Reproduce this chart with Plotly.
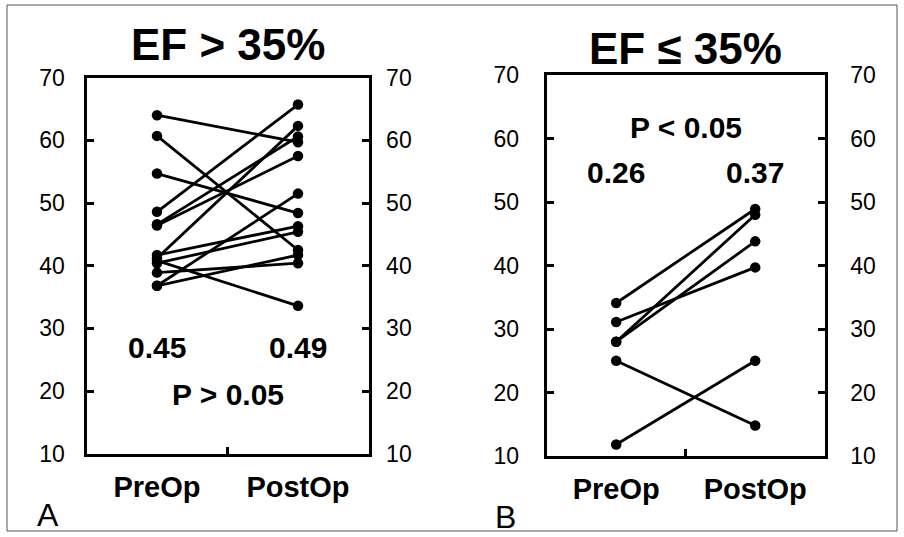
import plotly.graph_objects as go

# ---- data ----
categories = ["PreOp", "PostOp"]
y_ticks = [10, 20, 30, 40, 50, 60, 70]

left_pre = [64.0, 60.7, 54.7, 48.6, 46.6, 46.4, 41.2, 41.7, 40.4, 40.8, 38.9, 36.8, 36.8]
left_post = [59.7, 42.5, 48.4, 65.7, 60.6, 57.5, 62.3, 46.3, 45.4, 33.6, 40.4, 41.7, 51.5]

right_pre = [34.1, 31.1, 28.0, 28.0, 25.0, 11.8]
right_post = [48.9, 39.7, 48.0, 43.8, 14.8, 25.0]

left_title = "EF > 35%"
right_title = "EF ≤ 35%"
left_means = ["0.45", "0.49"]
right_means = ["0.26", "0.37"]
left_p = "P > 0.05"
right_p = "P < 0.05"

x_pos = list(range(len(categories)))

FONT = "Liberation Sans, Arial, sans-serif"
W, H = 904, 537

fig = go.Figure()

def add_pairs(pre_vals, post_vals, xa, ya, ya_right):
    for pre, post in zip(pre_vals, post_vals):
        fig.add_trace(go.Scatter(x=x_pos, y=[pre, post], mode="lines+markers",
                                 line=dict(color="black", width=2.8),
                                 marker=dict(color="black", size=10.5),
                                 xaxis=xa, yaxis=ya, showlegend=False, hoverinfo="y"))
        # transparent copy so that the right-hand axis is drawn
        fig.add_trace(go.Scatter(x=x_pos, y=[pre, post], mode="lines", opacity=0,
                                 xaxis=xa, yaxis=ya_right, showlegend=False,
                                 hoverinfo="skip"))

add_pairs(left_pre, left_post, "x", "y", "y3")
add_pairs(right_pre, right_post, "x2", "y2", "y4")

# pixel geometry -> paper fractions
def px_x(a, b):
    return [a / W, b / W]

def px_y(top, bottom):
    return [(H - bottom) / H, (H - top) / H]

xd1 = px_x(86.5, 368.5)
yd1 = px_y(77.6, 453.8)
xd2 = px_x(546.7, 824.7)
yd2 = px_y(75.0, 456.0)

tickfont = dict(family=FONT, size=23, color="black")
catfont = dict(family=FONT, size=29, color="black")

def xaxis(domain, anchor):
    return dict(domain=domain, anchor=anchor, range=[-0.5, 1.5],
                tickmode="array", tickvals=x_pos,
                ticktext=["<b>%s</b>" % c for c in categories],
                ticks="", showline=True, linewidth=3, linecolor="black",
                mirror=True, showgrid=False, zeroline=False,
                tickfont=catfont, ticklabelstandoff=5, automargin=False,
                minor=dict(tickvals=[0.5], ticks="inside", ticklen=7,
                           tickwidth=2.5, tickcolor="black", showgrid=False),
                fixedrange=True)

def yaxis(domain, anchor, side, standoff, overlay=None):
    d = dict(domain=domain, anchor=anchor, range=[10, 70], side=side,
             tickmode="array", tickvals=y_ticks,
             ticks="inside", ticklen=7, tickwidth=2.5, tickcolor="black",
             showline=True, linewidth=3, linecolor="black",
             showgrid=False, zeroline=False, tickfont=tickfont,
             ticklabelstandoff=standoff, automargin=False, fixedrange=True)
    if overlay:
        d["overlaying"] = overlay
    return d

fig.update_layout(
    width=W, height=H,
    margin=dict(l=0, r=0, t=0, b=0, pad=0, autoexpand=False),
    paper_bgcolor="white", plot_bgcolor="white",
    showlegend=False,
    xaxis=xaxis(xd1, "y"),
    yaxis=yaxis(yd1, "x", "left", 14),
    yaxis3=yaxis(yd1, "x", "right", 10, overlay="y"),
    xaxis2=xaxis(xd2, "y2"),
    yaxis2=yaxis(yd2, "x2", "left", 20),
    yaxis4=yaxis(yd2, "x2", "right", 18, overlay="y2"),
)

def py(p):
    return (H - p) / H

big = dict(family=FONT, size=30, color="black")
title_font = dict(family=FONT, size=44, color="black")
ann = []
# titles
ann.append(dict(text="<b>%s</b>" % left_title, x=0.5, xref="x", y=py(45), yref="paper",
                font=title_font))
ann.append(dict(text="<b>%s</b>" % right_title, x=0.5, xref="x2", y=py(48), yref="paper",
                font=title_font))
# group means and p values
for i, t in enumerate(left_means):
    ann.append(dict(text="<b>%s</b>" % t, x=x_pos[i], xref="x", y=27.0, yref="y", font=big))
ann.append(dict(text="<b>%s</b>" % left_p, x=0.5, xref="x", y=19.5, yref="y", font=big))
for i, t in enumerate(right_means):
    ann.append(dict(text="<b>%s</b>" % t, x=x_pos[i], xref="x2", y=54.6, yref="y2", font=big))
ann.append(dict(text="<b>%s</b>" % right_p, x=0.5, xref="x2", y=61.7, yref="y2", font=big))
# panel letters
ann.append(dict(text="A", x=48 / W, xref="paper", y=py(515), yref="paper",
                font=dict(family=FONT, size=32, color="black")))
ann.append(dict(text="B", x=505 / W, xref="paper", y=py(517), yref="paper",
                font=dict(family=FONT, size=32, color="black")))

for a in ann:
    a.update(showarrow=False, xanchor="center", yanchor="middle")

fig.update_layout(annotations=ann)

# outer frame
fig.add_shape(type="rect", xref="paper", yref="paper",
              x0=7 / W, x1=897 / W, y0=py(531), y1=py(5),
              line=dict(color="#555555", width=1))

fig.write_html("out.html",
               config={"displayModeBar": False},
               post_script="document.body.style.margin='0';"
                           "document.documentElement.style.overflow='hidden';")
